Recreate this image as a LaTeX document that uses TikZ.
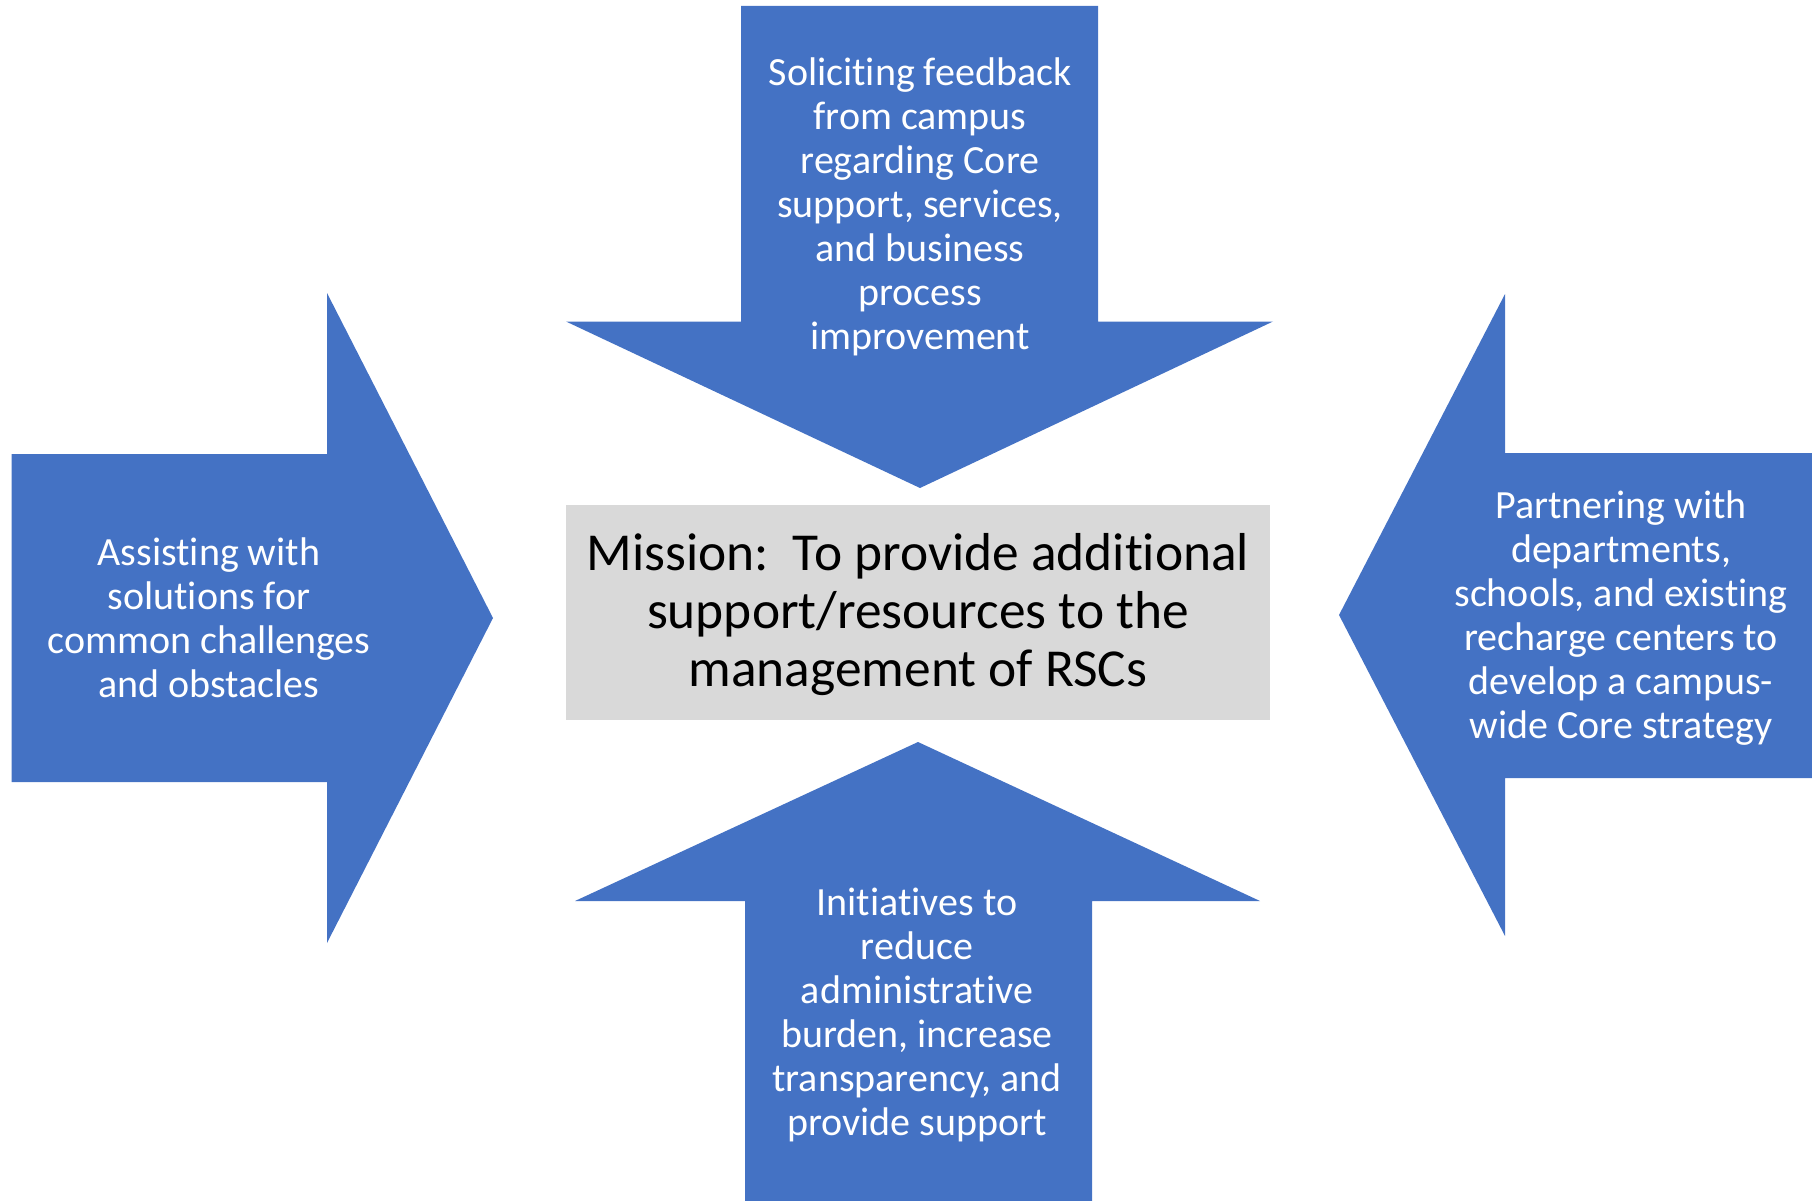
\documentclass[tikz,border=0pt]{standalone}
\usepackage{fontspec}
\setmainfont[Ligatures=NoCommon]{Carlito}
\definecolor{arrowblue}{HTML}{4472C4}
\definecolor{boxgray}{HTML}{D9D9D9}
\begin{document}
\begin{tikzpicture}[x=1pt,y=-1pt,
  arrowshape/.style={fill=arrowblue,draw=none},
  arrowtext/.style={text=white,align=center,inner sep=0pt,font=\fontsize{40}{44}\selectfont},
  missiontext/.style={text=black,align=center,inner sep=0pt,font=\fontsize{53.4}{58}\selectfont}]
\useasboundingbox (0,0) rectangle (1812,1201);
% top arrow (pointing down)
\fill[arrowshape] (741,6) -- (1098,6) -- (1098,321.5) -- (1273,321.5) -- (920,488) -- (566,321.5) -- (741,321.5) -- cycle;
% left arrow (pointing right)
\fill[arrowshape] (11.5,454) -- (327,454) -- (327,293) -- (493,618) -- (327,943) -- (327,782) -- (11.5,782) -- cycle;
% right arrow (pointing left)
\fill[arrowshape] (1812,453) -- (1505,453) -- (1505,294) -- (1339,615) -- (1505,936) -- (1505,778) -- (1812,778) -- cycle;
% bottom arrow (pointing up)
\fill[arrowshape] (745,1201) -- (1092,1201) -- (1092,901) -- (1260,901) -- (918,742) -- (575,901) -- (745,901) -- cycle;
% center box
\fill[boxgray] (566,505) rectangle (1270,719.5);
\node[missiontext] (mission) at (918,614.5) {Mission:\ \ To provide additional\\support/resources to the\\management of RSCs};
\node[arrowtext] (toptext) at (920,206.5) {Soliciting feedback\\from campus\\regarding Core\\support, services,\\and business\\process\\improvement};
\node[arrowtext] (lefttext) at (209,618) {Assisting with\\solutions for\\common challenges\\and obstacles};
\node[arrowtext] (righttext) at (1621,618.5) {Partnering with\\departments,\\schools, and existing\\recharge centers to\\develop a campus-\\wide Core strategy};
\node[arrowtext] (bottomtext) at (917,1014.5) {Initiatives to\\reduce\\administrative\\burden, increase\\transparency, and\\provide support};
\end{tikzpicture}
\end{document}
